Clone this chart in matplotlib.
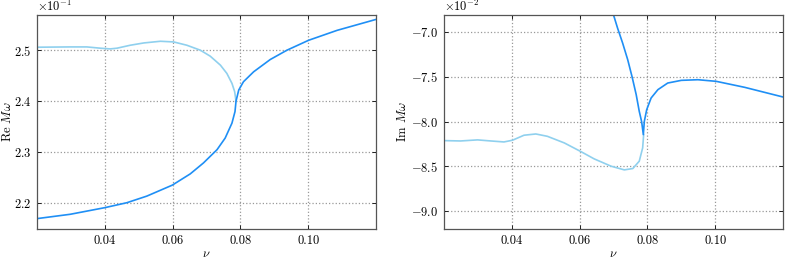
import numpy as np
import matplotlib
matplotlib.use("Agg")
import matplotlib.pyplot as plt

plt.rcParams['font.family'] = 'serif'
plt.rcParams['font.serif'] = ['cmr10', 'DejaVu Serif']
plt.rcParams['mathtext.fontset'] = 'cm'
plt.rcParams['axes.formatter.use_mathtext'] = True
plt.rcParams['axes.unicode_minus'] = False
plt.rcParams['font.size'] = 9

dark = '#1f8ff5'
light = '#8fd0ee'

# Re M omega (units of 1e-1)
re_light_nu = [0.0200, 0.0298, 0.0347, 0.0387, 0.0416, 0.0436, 0.0475, 0.0515, 0.0564,
               0.0603, 0.0642, 0.0682, 0.0711, 0.0741, 0.0760, 0.0775, 0.0783, 0.0787]
re_light = [2.5059, 2.5065, 2.5065, 2.504, 2.5026, 2.504, 2.5098, 2.5143, 2.5176,
            2.5163, 2.5098, 2.500, 2.4883, 2.4707, 2.4545, 2.435, 2.4187, 2.400]

re_dark_nu = [0.0200, 0.0298, 0.0400, 0.0465, 0.0524, 0.0599, 0.0652, 0.0691, 0.0731,
              0.0755, 0.0775, 0.0784, 0.0787, 0.0795, 0.0809, 0.0839, 0.0888, 0.0937,
              0.1001, 0.1085, 0.1200]
re_dark = [2.1695, 2.178, 2.191, 2.2007, 2.2137, 2.2352, 2.2573, 2.2788, 2.3048,
           2.3276, 2.3569, 2.3796, 2.400, 2.4219, 2.4382, 2.4577, 2.4818, 2.500,
           2.5195, 2.539, 2.5605]

# Im M omega (units of 1e-2)
im_light_nu = [0.0200, 0.0249, 0.0299, 0.0338, 0.0377, 0.0402, 0.0436, 0.0471, 0.0505,
               0.0555, 0.0602, 0.0643, 0.0693, 0.0732, 0.0757, 0.0776, 0.0786, 0.0789]
im_light = [-8.212, -8.216, -8.204, -8.216, -8.227, -8.208, -8.152, -8.138, -8.164,
            -8.238, -8.331, -8.416, -8.498, -8.539, -8.524, -8.442, -8.294, -8.145]

im_dark_nu = [0.0700, 0.0712, 0.0727, 0.0742, 0.0755, 0.0767, 0.0776, 0.0783, 0.0788,
              0.0791, 0.0798, 0.0811, 0.0831, 0.0860, 0.0900, 0.0949, 0.1003, 0.1087,
              0.1200]
im_dark = [-6.807, -6.955, -7.123, -7.309, -7.502, -7.699, -7.885, -8.000, -8.145,
           -7.996, -7.866, -7.736, -7.643, -7.569, -7.539, -7.532, -7.550, -7.617,
           -7.725]

fig = plt.figure(figsize=(7.89, 2.6), dpi=100)
ax1 = fig.add_axes([0.0469, 0.119, 0.4297, 0.823])
ax2 = fig.add_axes([0.5627, 0.119, 0.4297, 0.823])

ax1.plot(re_light_nu, np.array(re_light) * 1e-1, color=light, lw=1.2)
ax1.plot(re_dark_nu, np.array(re_dark) * 1e-1, color=dark, lw=1.2)
ax1.set_ylim(0.2149, 0.2569)
ax1.set_yticks([0.22, 0.23, 0.24, 0.25])
ax1.set_ylabel(r'Re $M\omega$')
ax1.yaxis.set_label_coords(-0.068, 0.5)

ax2.plot(im_light_nu, np.array(im_light) * 1e-2, color=light, lw=1.2)
ax2.plot(im_dark_nu, np.array(im_dark) * 1e-2, color=dark, lw=1.2)
ax2.set_ylim(-0.092, -0.0681)
ax2.set_yticks([-0.09, -0.085, -0.08, -0.075, -0.07])
ax2.set_ylabel(r'Im $M\omega$')
ax2.yaxis.set_label_coords(-0.104, 0.5)

for ax in (ax1, ax2):
    ax.set_xlim(0.02, 0.12)
    ax.set_xticks([0.04, 0.06, 0.08, 0.10])
    ax.set_xticklabels(['0.04', '0.06', '0.08', '0.10'])
    ax.set_xlabel(r'$\nu$', labelpad=1)
    ax.ticklabel_format(axis='y', style='sci', scilimits=(0, 0), useMathText=True)
    ax.grid(True, color='#999999', linestyle=':', linewidth=0.9)
    ax.tick_params(direction='in', top=True, right=True, length=3, width=0.6, pad=4)
    for s in ax.spines.values():
        s.set_color('#555555')
        s.set_linewidth(0.9)

fig.savefig('out.png', dpi=100)
